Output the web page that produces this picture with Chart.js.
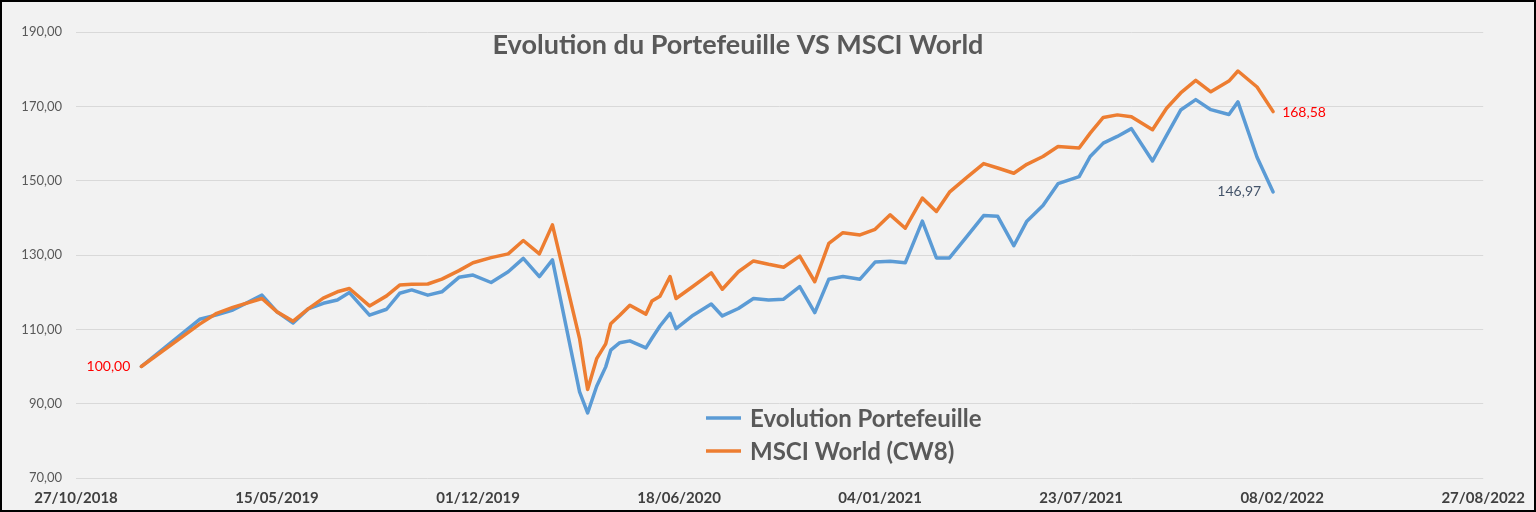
<!DOCTYPE html>
<html>
<head>
<meta charset="utf-8">
<script src="https://cdn.jsdelivr.net/npm/chart.js@4/dist/chart.umd.min.js"></script>
<style>
  html, body { margin: 0; padding: 0; background: #F2F2F2; }
  #wrap { width: 1536px; height: 512px; position: relative; }
</style>
</head>
<body>
<div id="wrap"><canvas id="evolutionChart"></canvas></div>
<script>
// dates of each point (dd from the picture, irregular spacing)
var dates = ['2018-12-31','2019-02-27','2019-03-16','2019-04-01','2019-04-30','2019-05-15','2019-05-31','2019-06-15','2019-06-30','2019-07-14',
    '2019-07-26','2019-08-15','2019-09-01','2019-09-14','2019-09-26','2019-10-12','2019-10-26','2019-11-12','2019-11-26','2019-12-14',
    '2019-12-31','2020-01-15','2020-01-31','2020-02-13','2020-03-11','2020-03-19','2020-03-28','2020-04-06','2020-04-11','2020-04-20',
    '2020-04-30','2020-05-16','2020-05-22','2020-05-30','2020-06-09','2020-06-15','2020-07-02','2020-07-20','2020-07-31','2020-08-16',
    '2020-08-31','2020-09-15','2020-09-30','2020-10-16','2020-10-31','2020-11-14','2020-11-28','2020-12-15','2020-12-30','2021-01-14',
    '2021-01-29','2021-02-15','2021-03-01','2021-03-14','2021-03-31','2021-04-17','2021-05-01','2021-05-17','2021-05-30','2021-06-15',
    '2021-06-30','2021-07-21','2021-08-01','2021-08-14','2021-08-28','2021-09-11','2021-10-02','2021-10-16','2021-10-30','2021-11-14',
    '2021-11-29','2021-12-17','2021-12-26','2022-01-14','2022-01-30'];

var portefeuille = [100, 112.7, 113.9, 115.2, 119.2, 114.7, 111.7, 115.5, 117.0, 117.9,
    119.9, 113.8, 115.4, 119.7, 120.6, 119.2, 120.1, 124.0, 124.6, 122.6,
    125.5, 129.1, 124.2, 128.7, 93.2, 87.5, 94.7, 99.9, 104.4, 106.4,
    106.9, 105.0, 107.6, 110.9, 114.3, 110.2, 113.8, 116.8, 113.6, 115.6,
    118.3, 117.9, 118.1, 121.5, 114.5, 123.5, 124.2, 123.5, 128.1, 128.3,
    127.9, 139.1, 129.2, 129.2, 134.9, 140.6, 140.4, 132.5, 139.1, 143.3,
    149.2, 151.1, 156.5, 160.1, 161.9, 164.0, 155.3, 162.2, 169.0, 171.8,
    169.1, 167.8, 171.2, 156.3, 146.97];

var msciWorld = [100, 111.4, 114.3, 115.9, 118.3, 114.7, 112.2, 115.5, 118.4, 120.1,
    121.0, 116.3, 119.0, 121.9, 122.1, 122.2, 123.5, 125.8, 127.9, 129.3,
    130.3, 133.9, 130.3, 138.1, 107.5, 93.8, 102.1, 106.1, 111.5, 113.8,
    116.5, 114.1, 117.6, 118.9, 124.2, 118.3, 121.6, 125.2, 120.8, 125.5,
    128.4, 127.5, 126.7, 129.7, 122.8, 133.1, 136.0, 135.4, 136.9, 140.8,
    137.2, 145.3, 141.7, 146.9, 150.8, 154.6, 153.4, 152.0, 154.4, 156.5,
    159.2, 158.8, 162.8, 167.0, 167.7, 167.2, 163.7, 169.5, 173.6, 177.0,
    173.9, 176.8, 179.5, 175.2, 168.58];

var seriesLabels = ['Evolution Portefeuille', 'MSCI World (CW8)'];
var axisStart = '2018-10-27';   // first x tick
var axisDays = 1400;            // last tick 27/08/2022
var tickDays = 200;
var yMin = 70, yMax = 190, yStep = 20;

var DAY = 86400000;
var startMs = Date.parse(axisStart);

function dayOf(d) {
    return Math.round((Date.parse(d) - startMs) / DAY);
}

function frNumber(v) {
    return v.toFixed(2).replace('.', ',');
}

function frDate(offset) {
    var d = new Date(startMs + offset * DAY);
    var dd = ('0' + d.getUTCDate()).slice(-2);
    var mm = ('0' + (d.getUTCMonth() + 1)).slice(-2);
    return dd + '/' + mm + '/' + d.getUTCFullYear();
}

function points(values) {
    return values.map(function(v, i) { return { x: dayOf(dates[i]), y: v }; });
}

var BLUE = '#5B9BD5', ORANGE = '#ED7D31';

// background, frame, title, legend inside the plot and end labels
var decor = {
    id: 'decor',
    beforeDraw: function(chart) {
        var ctx = chart.ctx;
        ctx.save();
        ctx.fillStyle = '#F2F2F2';
        ctx.fillRect(0, 0, chart.width, chart.height);
        ctx.restore();
    },
    afterDraw: function(chart) {
        var ctx = chart.ctx;
        ctx.save();

        ctx.fillStyle = '#595959';
        ctx.font = 'bold 27px Lato';
        ctx.textAlign = 'center';
        ctx.textBaseline = 'middle';
        ctx.fillText('Evolution du Portefeuille VS MSCI World', 738, 45);

        // legend
        var legendY = [418, 451];
        [0, 1].forEach(function(i) {
            var ds = chart.data.datasets[i];
            ctx.strokeStyle = ds.borderColor;
            ctx.lineWidth = 3.5;
            ctx.beginPath();
            ctx.moveTo(706, legendY[i]);
            ctx.lineTo(741, legendY[i]);
            ctx.stroke();
            ctx.fillStyle = '#595959';
            ctx.font = 'bold 24px Lato';
            ctx.textAlign = 'left';
            ctx.fillText(ds.label, 750, legendY[i] + 1);
        });

        // value labels
        ctx.font = '14px Lato';
        var mBlue = chart.getDatasetMeta(0).data;
        var mOrange = chart.getDatasetMeta(1).data;
        var first = mOrange[0];
        ctx.fillStyle = '#FF0000';
        ctx.textAlign = 'right';
        ctx.fillText(frNumber(msciWorld[0]), first.x - 11, first.y);
        var lastO = mOrange[mOrange.length - 1];
        ctx.textAlign = 'left';
        ctx.fillText(frNumber(msciWorld[msciWorld.length - 1]), lastO.x + 9, lastO.y + 1);
        var lastB = mBlue[mBlue.length - 1];
        ctx.fillStyle = '#44546A';
        ctx.textAlign = 'right';
        ctx.fillText(frNumber(portefeuille[portefeuille.length - 1]), lastB.x - 12, lastB.y);

        ctx.strokeStyle = '#000000';
        ctx.lineWidth = 2;
        ctx.strokeRect(1, 1, chart.width - 2, chart.height - 2);
        ctx.restore();
    }
};

new Chart(document.getElementById('evolutionChart').getContext('2d'), {
    type: 'line',
    data: {
        datasets: [{
            label: seriesLabels[0],
            data: points(portefeuille),
            borderColor: BLUE,
            backgroundColor: BLUE,
            borderWidth: 3.5,
            pointRadius: 0,
            tension: 0,
            borderJoinStyle: 'round',
            borderCapStyle: 'round',
            order: 1
        }, {
            label: seriesLabels[1],
            data: points(msciWorld),
            borderColor: ORANGE,
            backgroundColor: ORANGE,
            borderWidth: 3.5,
            pointRadius: 0,
            tension: 0,
            borderJoinStyle: 'round',
            borderCapStyle: 'round',
            order: 0
        }]
    },
    options: {
        responsive: true,
        maintainAspectRatio: false,
        animation: false,
        layout: { padding: { top: 32, right: 52, left: 0, bottom: 0 } },
        plugins: {
            legend: { display: false },
            title: { display: false },
            tooltip: { enabled: false }
        },
        scales: {
            x: {
                type: 'linear',
                min: 0,
                max: axisDays,
                grid: { display: false, drawTicks: false },
                border: { display: false },
                afterFit: function(scale) { scale.height = 34; },
                ticks: {
                    stepSize: tickDays,
                    padding: 11,
                    color: '#404040',
                    font: { family: 'Lato', size: 15, weight: 'bold' },
                    maxRotation: 0,
                    callback: function(v) { return frDate(v); }
                }
            },
            y: {
                min: yMin,
                max: yMax,
                grid: { color: '#D9D9D9', lineWidth: 1, drawTicks: false },
                border: { display: false },
                afterFit: function(scale) { scale.width = 76; },
                ticks: {
                    stepSize: yStep,
                    padding: 14,
                    color: '#595959',
                    font: { family: 'Lato', size: 13 },
                    callback: function(v) { return frNumber(v); }
                }
            }
        }
    },
    plugins: [decor]
});
</script>
</body>
</html>
